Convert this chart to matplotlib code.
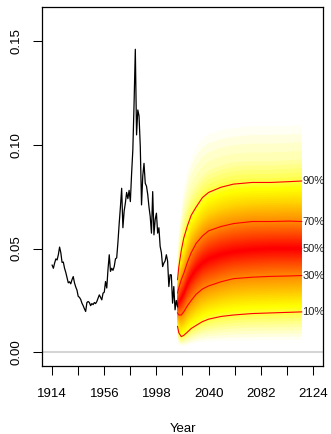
import numpy as np
import matplotlib
matplotlib.use("Agg")
import matplotlib.pyplot as plt
from matplotlib.colors import hsv_to_rgb

plt.rcParams['font.family'] = ['Liberation Sans', 'DejaVu Sans']

# ---------------- observed series ----------------
obs_years = list(range(1914, 2016))
obs_values = [
    0.0420, 0.0405, 0.0430, 0.0450, 0.0445, 0.0470, 0.0507, 0.0480, 0.0433, 0.0435,
    0.0405, 0.0385, 0.0360, 0.0335, 0.0340, 0.0330, 0.0350, 0.0365, 0.0335, 0.0315,
    0.0300, 0.0270, 0.0265, 0.0255, 0.0237, 0.0225, 0.0210, 0.0197, 0.0240, 0.0245,
    0.0240, 0.0225, 0.0235, 0.0230, 0.0240, 0.0235, 0.0245, 0.0261, 0.0277, 0.0265,
    0.0253, 0.0285, 0.0290, 0.0341, 0.0310, 0.0400, 0.0470, 0.0390, 0.0405, 0.0395,
    0.0413, 0.0450, 0.0455, 0.0530, 0.0620, 0.0700, 0.0790, 0.0600, 0.0680, 0.0720,
    0.0770, 0.0740, 0.0780, 0.0726, 0.0860, 0.0975, 0.1200, 0.1459, 0.1047, 0.1167,
    0.1138, 0.0990, 0.0710, 0.0850, 0.0910, 0.0814, 0.0800, 0.0760, 0.0700, 0.0654,
    0.0574, 0.0774, 0.0566, 0.0640, 0.0670, 0.0574, 0.0600, 0.0510, 0.0480, 0.0413,
    0.0430, 0.0440, 0.0470, 0.0440, 0.0317, 0.0374, 0.0373, 0.0237, 0.0317, 0.0205,
    0.0250, 0.0220,
]

# ---------------- forecast quantiles ----------------
fan_years = [2015, 2016, 2018, 2020, 2023, 2026, 2030, 2035, 2040, 2050, 2060, 2075, 2090, 2105, 2115]
fan_pct = [1, 5, 10, 20, 30, 40, 50, 60, 70, 80, 90, 95, 99]
q01 = [0.0060, 0.0040, 0.0030, 0.0030, 0.0035, 0.0040, 0.0045, 0.0050, 0.0052, 0.0055, 0.0057, 0.0058, 0.0060, 0.0060, 0.0060]
q05 = [0.0090, 0.0065, 0.0050, 0.0055, 0.0065, 0.0075, 0.0085, 0.0095, 0.0102, 0.0110, 0.0115, 0.0120, 0.0120, 0.0122, 0.0123]
q10 = [0.0125, 0.0095, 0.0076, 0.0082, 0.0098, 0.0115, 0.0130, 0.0148, 0.0160, 0.0173, 0.0180, 0.0187, 0.0190, 0.0193, 0.0195]
q20 = [0.0160, 0.0140, 0.0128, 0.0138, 0.0162, 0.0183, 0.0205, 0.0227, 0.0240, 0.0257, 0.0268, 0.0275, 0.0278, 0.0280, 0.0282]
q30 = [0.0190, 0.0180, 0.0180, 0.0195, 0.0225, 0.0250, 0.0280, 0.0305, 0.0320, 0.0340, 0.0355, 0.0362, 0.0366, 0.0368, 0.0370]
q40 = [0.0215, 0.0210, 0.0220, 0.0240, 0.0280, 0.0310, 0.0340, 0.0370, 0.0385, 0.0406, 0.0420, 0.0428, 0.0433, 0.0434, 0.0435]
q50 = [0.0235, 0.0240, 0.0260, 0.0285, 0.0330, 0.0365, 0.0400, 0.0430, 0.0450, 0.0472, 0.0485, 0.0495, 0.0500, 0.0500, 0.0500]
q60 = [0.0260, 0.0275, 0.0305, 0.0330, 0.0380, 0.0420, 0.0460, 0.0495, 0.0517, 0.0540, 0.0553, 0.0562, 0.0565, 0.0566, 0.0565]
q70 = [0.0286, 0.0310, 0.0350, 0.0380, 0.0435, 0.0480, 0.0525, 0.0560, 0.0585, 0.0606, 0.0620, 0.0630, 0.0630, 0.0632, 0.0630]
q80 = [0.0315, 0.0350, 0.0410, 0.0450, 0.0510, 0.0565, 0.0600, 0.0640, 0.0665, 0.0690, 0.0705, 0.0715, 0.0718, 0.0720, 0.0720]
q90 = [0.0350, 0.0410, 0.0490, 0.0550, 0.0610, 0.0660, 0.0700, 0.0745, 0.0770, 0.0795, 0.0810, 0.0818, 0.0818, 0.0822, 0.0825]
q95 = [0.0400, 0.0480, 0.0580, 0.0650, 0.0720, 0.0770, 0.0810, 0.0850, 0.0875, 0.0900, 0.0915, 0.0920, 0.0920, 0.0925, 0.0930]
q99 = [0.0480, 0.0580, 0.0700, 0.0790, 0.0880, 0.0940, 0.0990, 0.1030, 0.1050, 0.1070, 0.1080, 0.1090, 0.1090, 0.1090, 0.1095]
line_pct = [10, 30, 50, 70, 90]
line_labels = ["10%", "30%", "50%", "70%", "90%"]

x_ticks = [1914, 1935, 1956, 1977, 1998, 2019, 2040, 2061, 2082, 2103, 2124]
x_ticklabels = ["1914", "", "1956", "", "1998", "", "2040", "", "2082", "", "2124"]
y_ticks = [0.00, 0.05, 0.10, 0.15]
y_ticklabels = ["0.00", "0.05", "0.10", "0.15"]


def heat_colors(n):
    j = n // 4
    i = n - j
    cols = [hsv_to_rgb((h, 1.0, 1.0)) for h in np.linspace(0, 1 / 6, i)]
    if j > 0:
        cols += [hsv_to_rgb((1 / 6, s, 1.0)) for s in np.linspace(1 - 1 / (2 * j), 1 / (2 * j), j)]
    return cols


W, H, DPI = 331, 434, 100
fig = plt.figure(figsize=(W / DPI, H / DPI), dpi=DPI)
L, R, T, B = 41.7, 323.3, 6.7, 365.7
ax = fig.add_axes([L / W, 1 - B / H, (R - L) / W, (B - T) / H])

# fan: nested fills from outermost (pale) to innermost (red)
Q = np.array([q01, q05, q10, q20, q30, q40, q50, q60, q70, q80, q90, q95, q99])
fy = np.array(fan_years, dtype=float)
pct_full = np.arange(1, 100)
Qfull = np.array([[np.interp(p, fan_pct, Q[:, c]) for c in range(Q.shape[1])] for p in pct_full])
cols = heat_colors(49)
for k in range(1, 50):
    lo = Qfull[k - 1]
    hi = Qfull[99 - k]
    idx = 49 - k
    col = cols[idx]
    ax.fill_between(fy, lo, hi, facecolor=col, edgecolor='none', lw=0, zorder=2)

ax.axhline(0, color='#cccccc', lw=1.2, zorder=1)

ax.plot(obs_years, obs_values, color='black', lw=0.9, zorder=4)

for p, lab in zip(line_pct, line_labels):
    vals = Qfull[p - 1]
    ax.plot(fy, vals, color='#ff0000', lw=0.8, zorder=3)
    ax.text(2115.6, vals[-1], lab, fontsize=8, ha='left', va='center',
            color='#222222', clip_on=False, zorder=5)

ax.set_xlim(1914 - 8.4, 2124 + 8.4)
ax.set_ylim(-0.0064, 0.16 + 0.0064)
ax.set_xticks(x_ticks)
ax.set_xticklabels(x_ticklabels)
ax.set_yticks(y_ticks)
ax.set_yticklabels(y_ticklabels, rotation=90, va='center')
ax.tick_params(direction='out', length=6.3, width=0.75, labelsize=9.5, colors='black')
ax.tick_params(axis='x', pad=9.5)
ax.tick_params(axis='y', pad=7.5)
for s in ax.spines.values():
    s.set_linewidth(0.9)

fig.text(((L + R) / 2) / W, 1 - 432 / H, 'Year', ha='center', va='baseline', fontsize=9.5)

fig.savefig('out.png', dpi=DPI)
